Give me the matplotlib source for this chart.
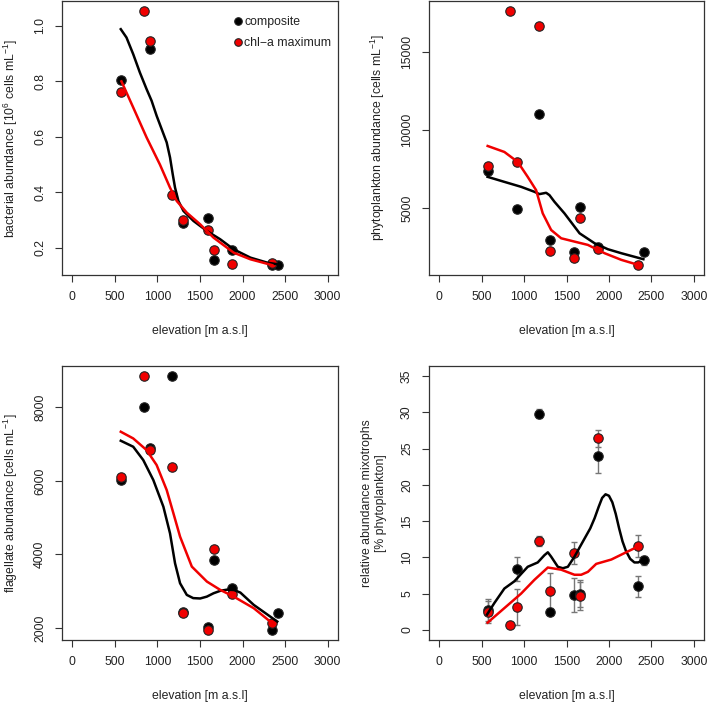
import numpy as np
import matplotlib
matplotlib.use("Agg")
import matplotlib.pyplot as plt

plt.rcParams['font.family'] = ['Liberation Sans', 'DejaVu Sans']
plt.rcParams['mathtext.fontset'] = 'custom'
plt.rcParams['mathtext.rm'] = 'Liberation Sans'
plt.rcParams['mathtext.it'] = 'Liberation Sans:italic'

# sampling elevations (m a.s.l.)
elev = [570, 840, 912, 1176, 1305, 1589, 1659, 1876, 2340, 2418]
nan = np.nan

# bacterial abundance (10^6 cells/mL)
bac_comp = [0.804, nan, 0.916, nan, 0.291, 0.307, 0.156, 0.193, 0.139, 0.139]
bac_chl = [0.763, 1.053, 0.944, 0.392, 0.301, 0.265, 0.192, 0.141, 0.147, nan]
bac_fit_comp_x = [570, 637, 716, 794, 873, 932, 991, 1050, 1109, 1148, 1180, 1207, 1247,
                  1306, 1424, 1581, 1738, 1895, 2092, 2289, 2407]
bac_fit_comp_y = [0.988, 0.958, 0.898, 0.832, 0.772, 0.730, 0.676, 0.628, 0.580, 0.526,
                  0.465, 0.417, 0.369, 0.333, 0.297, 0.261, 0.231, 0.195, 0.165, 0.147, 0.141]
bac_fit_chl_x = [578, 716, 873, 1030, 1148, 1227, 1345, 1502, 1659, 1895, 2092, 2348]
bac_fit_chl_y = [0.80, 0.706, 0.598, 0.50, 0.417, 0.369, 0.327, 0.285, 0.237, 0.183, 0.159, 0.138]

# phytoplankton abundance (cells/mL)
phy_comp = [7404, nan, 4936, 11043, 3000, 2234, 5085, 2500, nan, 2234]
phy_chl = [7724, 17640, 8000, 16704, 2276, 1851, 4362, 2400, 1382, nan]
phy_fit_comp_x = [570, 768, 965, 1122, 1181, 1260, 1299, 1358, 1476, 1654, 1831, 1988, 2146, 2406]
phy_fit_comp_y = [7022, 6700, 6383, 6064, 5915, 6000, 5851, 5425, 4681, 3404, 2766, 2383, 2127, 1744]
phy_fit_chl_x = [571, 768, 925, 1043, 1142, 1220, 1319, 1437, 1594, 1752, 1949, 2146, 2343]
phy_fit_chl_y = [9000, 8617, 7979, 7021, 6170, 4681, 3617, 3085, 2872, 2660, 2127, 1702, 1382]

# flagellate abundance (cells/mL)
fla_comp = [6024, 7999, 6902, 8851, 2435, 2036, 3849, 3078, 1946, 2399]
fla_chl = [6114, 8851, 6839, 6386, 2399, 1946, 4148, 2915, 2145, nan]
fla_fit_comp_x = [570, 716, 834, 952, 1070, 1148, 1207, 1266, 1345, 1420, 1502, 1580, 1659,
                  1740, 1817, 1900, 1974, 2131, 2407]
fla_fit_comp_y = [7093, 6930, 6567, 6024, 5298, 4574, 3758, 3214, 2897, 2810, 2800, 2850, 2942,
                  3010, 3040, 3030, 2960, 2625, 2172]
fla_fit_chl_x = [570, 716, 873, 991, 1109, 1188, 1266, 1404, 1581, 1738, 1895, 2131, 2348]
fla_fit_chl_y = [7338, 7156, 6839, 6431, 5752, 5117, 4483, 3667, 3260, 3033, 2852, 2535, 2127]

# relative abundance of mixotrophs (% phytoplankton) with SE
mix_comp = [2.7, nan, 8.4, 29.8, 2.5, 4.8, 5.0, 24.0, 6.0, 9.6]
mix_comp_se = [1.5, nan, 1.7, 0.6, 0.0, 2.3, 1.9, 2.4, 1.4, 0.6]
mix_chl = [2.5, 0.7, 3.2, 12.2, 5.4, 10.6, 4.7, 26.4, 11.6, nan]
mix_chl_se = [1.5, 0.3, 2.5, 0.7, 2.4, 1.5, 1.9, 1.2, 1.5, nan]
mix_fit_comp_x = [563, 650, 768, 886, 1043, 1161, 1240, 1280, 1319, 1398, 1457, 1516, 1594,
                  1713, 1780, 1831, 1880, 1920, 1960, 2000, 2040, 2080, 2120, 2160, 2200,
                  2250, 2300, 2343, 2406]
mix_fit_comp_y = [2.1, 3.7, 5.7, 6.7, 8.7, 9.3, 10.3, 10.7, 10.1, 8.7, 8.5, 8.7, 10.1,
                  12.6, 14.0, 15.4, 17.0, 18.2, 18.7, 18.5, 17.6, 16.0, 14.0, 12.2, 10.9,
                  9.8, 9.3, 9.3, 9.6]
mix_fit_chl_x = [571, 768, 965, 1122, 1280, 1437, 1594, 1673, 1752, 1850, 2028, 2185, 2343]
mix_fit_chl_y = [1.0, 3.0, 5.0, 6.9, 8.6, 8.3, 7.6, 7.6, 8.0, 9.1, 9.7, 10.6, 11.5]

W, H = 708, 702
fig = plt.figure(figsize=(W / 100, H / 100), dpi=100)

def box(l, t, w, h):
    return fig.add_axes([l / W, 1 - (t + h) / H, w / W, h / H])

TXT = '#222222'
RED = '#f00000'
FS = 8.8

def style(ax, ylabel, yticks, ylim=None):
    ax.set_xlim(-120, 3120)
    ax.set_xticks([0, 500, 1000, 1500, 2000, 2500, 3000])
    ax.set_yticks(yticks)
    if ylim is not None:
        r = ylim[1] - ylim[0]
        ax.set_ylim(ylim[0] - 0.04 * r, ylim[1] + 0.04 * r)
    for s in ax.spines.values():
        s.set_color('#333333')
        s.set_linewidth(0.9)
    ax.tick_params(direction='out', length=5, width=0.8, color='#333333',
                   labelsize=FS, labelcolor=TXT, pad=6.5)
    for lbl in ax.get_yticklabels():
        lbl.set_rotation(90)
        lbl.set_va('center')
    ax.set_xlabel('elevation [m a.s.l]', fontsize=FS, color=TXT, labelpad=16)
    ax.set_ylabel(ylabel, fontsize=FS, color=TXT, labelpad=10)

def points(ax, comp, chl):
    ax.plot(elev, comp, 'o', ms=6.8, mfc='black', mec='#222222', mew=0.8, zorder=3,
            label='composite')
    ax.plot(elev, chl, 'o', ms=6.8, mfc=RED, mec='#222222', mew=0.8, zorder=4,
            label='chl\u2212a maximum')

def fits(ax, cx, cy, rx, ry):
    ax.plot(cx, cy, color='black', lw=1.8, zorder=5)
    ax.plot(rx, ry, color=RED, lw=1.8, zorder=5)

def data_lim(*series):
    v = np.concatenate([np.asarray(s, float) for s in series])
    return (np.nanmin(v), np.nanmax(v))

# bacteria
ax1 = box(62, 1, 276, 274)
points(ax1, bac_comp, bac_chl)
fits(ax1, bac_fit_comp_x, bac_fit_comp_y, bac_fit_chl_x, bac_fit_chl_y)
style(ax1, 'bacterial abundance [10$^{6}$ cells mL$^{-1}$]', [0.2, 0.4, 0.6, 0.8, 1.0],
      data_lim(bac_comp, bac_chl))
ax1.legend(loc='upper left', bbox_to_anchor=(0.574, 0.963), frameon=False, fontsize=FS,
           handletextpad=-0.45, labelspacing=0.72, borderaxespad=0.0, markerscale=0.8,
           labelcolor=TXT)

# phytoplankton
ax2 = box(429, 1, 275, 274)
points(ax2, phy_comp, phy_chl)
fits(ax2, phy_fit_comp_x, phy_fit_comp_y, phy_fit_chl_x, phy_fit_chl_y)
style(ax2, 'phytoplankton abundance [cells mL$^{-1}$]', [5000, 10000, 15000],
      data_lim(phy_comp, phy_chl))

# flagellates
ax3 = box(62, 366, 276, 274)
points(ax3, fla_comp, fla_chl)
fits(ax3, fla_fit_comp_x, fla_fit_comp_y, fla_fit_chl_x, fla_fit_chl_y)
style(ax3, 'flagellate abundance [cells mL$^{-1}$]', [2000, 4000, 6000, 8000],
      data_lim(fla_comp, fla_chl))

# mixotrophs
ax4 = box(429, 366, 275, 274)
ax4.errorbar(elev, mix_comp, yerr=mix_comp_se, fmt='none', ecolor='#777777',
             elinewidth=1.0, capsize=2.5, capthick=1.0, zorder=2)
ax4.errorbar(elev, mix_chl, yerr=mix_chl_se, fmt='none', ecolor='#777777',
             elinewidth=1.0, capsize=2.5, capthick=1.0, zorder=2)
points(ax4, mix_comp, mix_chl)
fits(ax4, mix_fit_comp_x, mix_fit_comp_y, mix_fit_chl_x, mix_fit_chl_y)
style(ax4, 'relative abundance mixotrophs\n[% phytoplankton]', [0, 5, 10, 15, 20, 25, 30, 35],
      (0, 35))

fig.savefig('out.png', dpi=100)
